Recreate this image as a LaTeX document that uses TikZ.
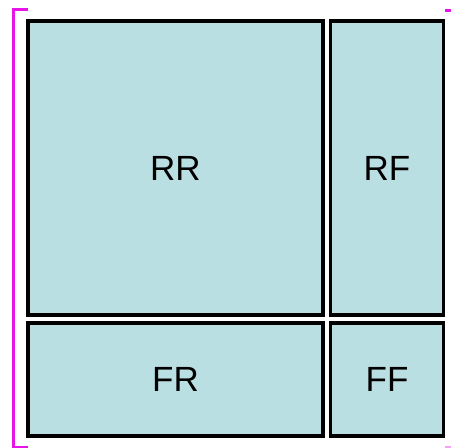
\documentclass[tikz,border=0pt]{standalone}
\usepackage{fontspec}
\setmainfont{Liberation Sans}
\usepackage{tikz}
\usetikzlibrary{positioning,calc}
\definecolor{cellfill}{RGB}{186,223,227}
\definecolor{brmag}{RGB}{230,20,230}

\begin{document}
\begin{tikzpicture}[x=1pt, y=-1pt,
  cell/.style={draw=black, line width=3.2pt, fill=cellfill, inner sep=0pt,
    font=\fontsize{35}{42}\selectfont},
  brace/.style={draw=brmag, line width=3pt}]
\useasboundingbox (0,0) rectangle (451,448);
\node[cell, minimum width=295pt, minimum height=294pt] (rr) at (175.5,168) {RR};
\node[cell, minimum width=113pt, minimum height=294pt] (rf) at (387,168) {RF};
\node[cell, minimum width=295pt, minimum height=113pt] (fr) at (175.5,379.5) {FR};
\node[cell, minimum width=113pt, minimum height=113pt] (ff) at (387,379.5) {FF};
% bracket round the grid
\draw[brace] (28,9.5) -- (13,9.5) -- (13,447) -- (28,447);
\draw[brace] (445,10) -- (451,10);
\draw[brace, draw=brmag!40] (445,447) -- (451,447);
\end{tikzpicture}
\end{document}
